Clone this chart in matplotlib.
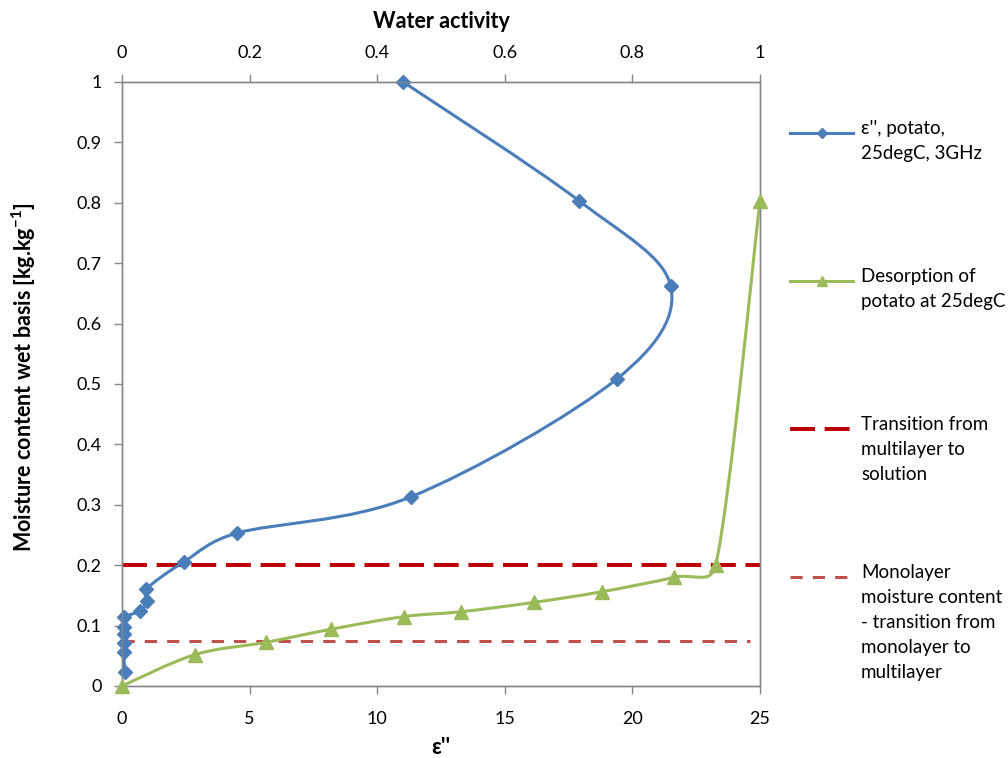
import matplotlib
matplotlib.use("Agg")
import matplotlib.pyplot as plt
from matplotlib.path import Path
from matplotlib.patches import PathPatch
from matplotlib.lines import Line2D
import numpy as np

plt.rcParams['font.family'] = ['Lato', 'DejaVu Sans']
plt.rcParams['mathtext.fontset'] = 'custom'
plt.rcParams['mathtext.rm'] = 'Lato'
plt.rcParams['mathtext.bf'] = 'Lato:bold'

# ---------------- data ----------------
eps_x = [11.02, 17.92, 21.50, 19.41, 11.31, 4.49, 2.44, 0.94, 0.97, 0.71,
         0.08, 0.07, 0.07, 0.07, 0.07, 0.10]
eps_y = [1.000, 0.803, 0.662, 0.509, 0.313, 0.253, 0.206, 0.160, 0.141, 0.124,
         0.114, 0.098, 0.086, 0.071, 0.056, 0.024]

aw_x = [0.0, 0.1144, 0.2257, 0.3276, 0.4425, 0.532, 0.6458, 0.7519, 0.8657, 0.9306, 1.0]
aw_y = [0.0, 0.052, 0.0723, 0.094, 0.115, 0.123, 0.1385, 0.156, 0.180, 0.2003, 0.803]

transition_y = 0.2
monolayer_y = 0.075

x_ticks = [0, 5, 10, 15, 20, 25]
aw_ticks = [0, 0.2, 0.4, 0.6, 0.8, 1]
aw_labels = ["0", "0.2", "0.4", "0.6", "0.8", "1"]
y_ticks = [0, 0.1, 0.2, 0.3, 0.4, 0.5, 0.6, 0.7, 0.8, 0.9, 1.0]
y_labels = ["0", "0.1", "0.2", "0.3", "0.4", "0.5", "0.6", "0.7", "0.8", "0.9", "1"]

legend_labels = ["\u03b5'', potato,\n25degC, 3GHz",
                 "Desorption of\npotato at 25degC",
                 "Transition from\nmultilayer to\nsolution",
                 "Monolayer\nmoisture content\n- transition from\nmonolayer to\nmultilayer"]

BLUE = '#4A7EBB'
GREEN = '#9BBB59'
RED = '#C00000'
RED2 = '#C0504D'
GRAY = '#868686'

W, H = 1008, 758
fig = plt.figure(figsize=(W / 100, H / 100), dpi=100)
L, R, T, B = 122, 760, 82, 686
ax = fig.add_axes([L / W, 1 - B / H, (R - L) / W, (B - T) / H])


def smooth_path(xs, ys, sx, sy, k=0.5):
    """Excel-like smoothed line: cubic Bezier segments through the points,
    tangent handles limited relative to segment length (in pixel space)."""
    pts = np.column_stack([np.asarray(xs, float) * sx, np.asarray(ys, float) * sy])
    n = len(pts)
    verts = [pts[0]]
    codes = [Path.MOVETO]
    for i in range(n - 1):
        p0 = pts[i - 1] if i > 0 else pts[i]
        p1 = pts[i]
        p2 = pts[i + 1]
        p3 = pts[i + 2] if i + 2 < n else pts[i + 1]
        seg = np.hypot(*(p2 - p1))
        t1 = (p2 - p0) / 6.0
        t2 = (p3 - p1) / 6.0
        for t in (t1, t2):
            ln = np.hypot(*t)
            if ln > k * seg and ln > 0:
                t *= k * seg / ln
        verts += [p1 + t1, p2 - t2, p2]
        codes += [Path.CURVE4] * 3
    verts = np.array(verts)
    verts[:, 0] /= sx
    verts[:, 1] /= sy
    return Path(verts, codes)


PX_W, PX_H = R - L, B - T

# dashed lines
ax.plot([0, 25], [transition_y, transition_y], color=RED, lw=2.9,
        dashes=(6.2, 2.4), zorder=2)
ax.plot([0, 24.6], [monolayer_y, monolayer_y], color=RED2, lw=2.2,
        dashes=(4.0, 3.3), zorder=2)

# blue series (bottom axis)
ax.add_patch(PathPatch(smooth_path(eps_x, eps_y, PX_W / 25, PX_H), fill=False,
                       edgecolor=BLUE, lw=2.2, zorder=3))
ax.plot(eps_x, eps_y, ls='none', marker='D', ms=7, color=BLUE, zorder=4,
        clip_on=False)

ax.set_xlim(0, 25)
ax.set_ylim(0, 1)
ax.set_xticks(x_ticks)
ax.set_xticklabels([str(v) for v in x_ticks])
ax.set_yticks(y_ticks)
ax.set_yticklabels(y_labels)

# green series (top axis: water activity)
ax2 = ax.twiny()
ax2.set_xlim(0, 1)
ax2.add_patch(PathPatch(smooth_path(aw_x, aw_y, PX_W, PX_H), fill=False,
                        edgecolor=GREEN, lw=2.2, zorder=3))
ax2.plot(aw_x, aw_y, ls='none', marker='^', ms=10, color=GREEN, zorder=4,
         clip_on=False)
ax2.set_xticks(aw_ticks)
ax2.set_xticklabels(aw_labels)

for a in (ax, ax2):
    for s in a.spines.values():
        s.set_color(GRAY)
        s.set_linewidth(1.0)
    a.tick_params(direction='out', length=5.8, width=1, color=GRAY,
                  labelsize=13, labelcolor='#000000')

ax.tick_params(axis='y', pad=9)
ax.tick_params(axis='x', pad=12.5)
ax2.tick_params(axis='x', pad=9)

ax.set_xlabel("\u03b5''", fontsize=15.5, fontweight='bold')
ax.xaxis.set_label_coords(0.5, (B - 747) / PX_H)
ax.xaxis.label.set_va('center')
ax2.set_xlabel("Water activity", fontsize=15.5, fontweight='bold')
ax2.xaxis.set_label_coords(0.5, (B - 21.5) / PX_H)
ax2.xaxis.label.set_va('center')
ax.set_ylabel("Moisture content wet basis [kg.kg$^{\\mathbf{-1}}$]", fontsize=15.5,
              fontweight='bold')
ax.yaxis.set_label_coords((24 - L) / PX_W, (B - 377) / PX_H)
ax.yaxis.label.set_va('center')
ax.yaxis.label.set_ha('center')


# legend drawn manually in pixel coordinates
def fx(px):
    return px / W


def fy(py):
    return 1 - py / H


leg_y = [133, 281, 429, 577]
styles = [dict(color=BLUE, lw=2.2, marker='D', ms=5, markevery=[1]),
          dict(color=GREEN, lw=2.2, marker='^', ms=7, markevery=[1]),
          dict(color=RED, lw=2.9, dashes=(6.2, 2.4)),
          dict(color=RED2, lw=2.2, dashes=(4.0, 3.3))]
for yy, st, lab in zip(leg_y, styles, legend_labels):
    fig.add_artist(Line2D([fx(790), fx(821.5), fx(853)], [fy(yy)] * 3,
                          transform=fig.transFigure, **st))
    fig.text(fx(861), fy(yy - 13), lab, fontsize=13.5, va='top', ha='left',
             linespacing=1.58)

fig.savefig("out.png", dpi=100)
